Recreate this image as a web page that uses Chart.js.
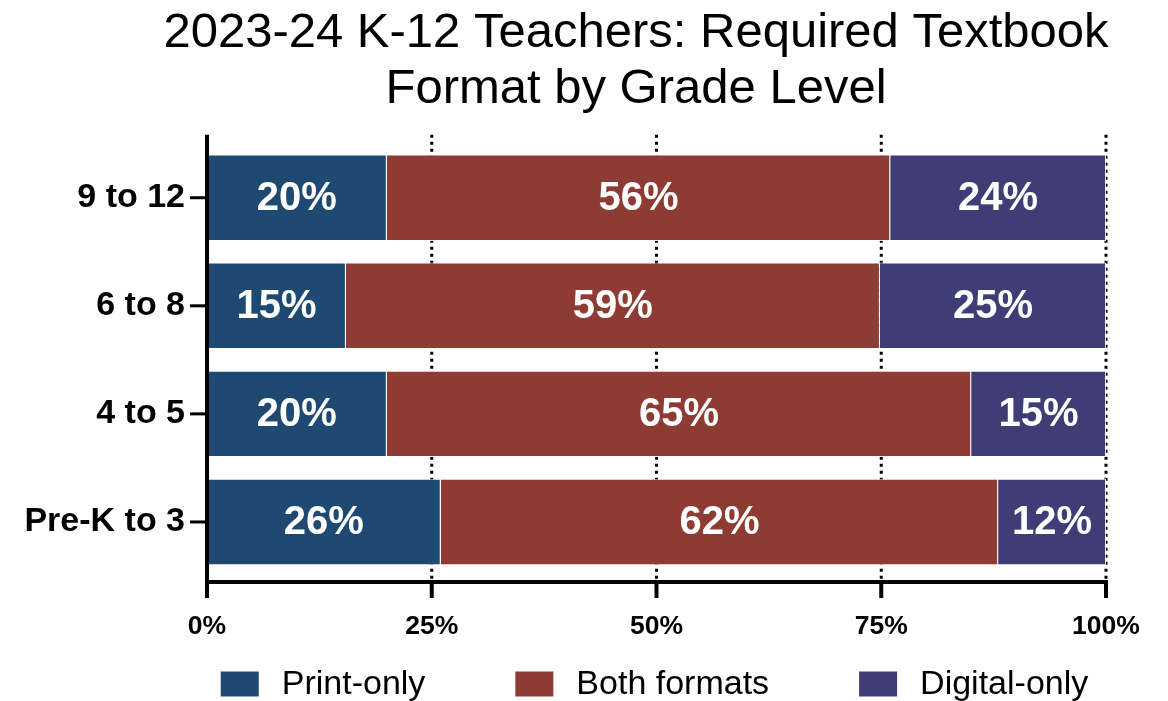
<!DOCTYPE html>
<html>
<head>
<meta charset="utf-8">
<script src="https://cdn.jsdelivr.net/npm/chart.js@4/dist/chart.umd.min.js"></script>
<style>
  html, body { margin: 0; padding: 0; background: #fff; }
  #wrap { width: 1168px; height: 701px; }
</style>
</head>
<body>
<div id="wrap"><canvas id="formatChart"></canvas></div>
<script>
const gradeLevels = ["9 to 12", "6 to 8", "4 to 5", "Pre-K to 3"];
const printOnly = [20, 15.45, 20, 26];
const bothFormats = [56, 59.4, 65, 62];
const digitalOnly = [24, 25.15, 15, 12];
const pctTicks = [0, 25, 50, 75, 100];

const FONT = "'Liberation Sans', Arial, Helvetica, sans-serif";

// dotted grid, heavy axes and tick marks, segment labels, legend
const chartDecor = {
  id: "chartDecor",
  afterLayout(chart) {
    // title is centred a bit right of the canvas middle
    if (chart.titleBlock) chart.titleBlock.left = 104;
  },
  beforeDatasetsDraw(chart) {
    const { ctx, chartArea, scales } = chart;
    ctx.save();
    ctx.strokeStyle = "#000";
    ctx.lineWidth = 3;
    ctx.setLineDash([3, 4]);
    pctTicks.slice(1).forEach(v => {
      const x = scales.x.getPixelForValue(v);
      ctx.beginPath();
      ctx.moveTo(x, chartArea.top - 9);
      ctx.lineTo(x, chartArea.bottom + 6);
      ctx.stroke();
    });
    ctx.restore();
  },
  afterDatasetsDraw(chart) {
    const { ctx, chartArea, scales } = chart;
    const axisY = chartArea.bottom + 6;
    const x0 = scales.x.getPixelForValue(0);
    ctx.save();
    ctx.strokeStyle = "#000";
    ctx.lineCap = "butt";
    ctx.lineWidth = 4;
    ctx.beginPath();
    ctx.moveTo(x0, chartArea.top - 9);
    ctx.lineTo(x0, axisY + 2);
    ctx.moveTo(x0 - 2, axisY);
    ctx.lineTo(scales.x.getPixelForValue(100) + 2, axisY);
    ctx.stroke();
    pctTicks.forEach(v => {
      const x = scales.x.getPixelForValue(v);
      ctx.beginPath();
      ctx.moveTo(x, axisY);
      ctx.lineTo(x, axisY + 16);
      ctx.stroke();
    });
    ctx.lineWidth = 3;
    gradeLevels.forEach((g, i) => {
      const y = scales.y.getPixelForValue(i);
      ctx.beginPath();
      ctx.moveTo(x0 - 17, y);
      ctx.lineTo(x0, y);
      ctx.stroke();
    });

    ctx.fillStyle = "#fff";
    ctx.font = "bold 40px " + FONT;
    ctx.textAlign = "center";
    ctx.textBaseline = "middle";
    chart.data.datasets.forEach((ds, di) => {
      chart.getDatasetMeta(di).data.forEach((bar, i) => {
        const p = bar.getProps(["x", "y", "base"], true);
        ctx.fillText(Math.round(ds.data[i]) + "%", (p.x + p.base) / 2, p.y + 1);
      });
    });
    ctx.restore();
  },
  afterDraw(chart) {
    const { ctx, chartArea } = chart;
    const boxW = 38, boxH = 25, gap = 23, itemGap = 90;
    ctx.save();
    ctx.font = "34px " + FONT;
    ctx.textBaseline = "middle";
    ctx.textAlign = "left";
    const items = chart.data.datasets.map(ds => ({
      label: ds.label,
      color: ds.backgroundColor,
      w: boxW + gap + ctx.measureText(ds.label).width
    }));
    const total = items.reduce((s, it) => s + it.w, 0) + itemGap * (items.length - 1);
    let x = (chartArea.left + chartArea.right) / 2 - total / 2 - 2;
    const y = 684;
    items.forEach(it => {
      ctx.fillStyle = it.color;
      ctx.fillRect(x, y - boxH / 2, boxW, boxH);
      ctx.fillStyle = "#000";
      ctx.fillText(it.label, x + boxW + gap, y + 1);
      x += it.w + itemGap;
    });
    ctx.restore();
  }
};

new Chart(document.getElementById("formatChart"), {
  type: "bar",
  data: {
    labels: gradeLevels,
    datasets: [
      { label: "Print-only", data: printOnly, backgroundColor: "#1e4a72" },
      { label: "Both formats", data: bothFormats, backgroundColor: "#8e3b34" },
      { label: "Digital-only", data: digitalOnly, backgroundColor: "#3f3d76" }
    ]
  },
  options: {
    indexAxis: "y",
    responsive: true,
    maintainAspectRatio: false,
    animation: false,
    layout: { padding: { left: 0, right: 0, top: 0, bottom: 65 } },
    datasets: {
      bar: {
        barPercentage: 0.8,
        categoryPercentage: 1,
        borderWidth: 1,
        borderColor: "rgba(255,255,255,0.85)"
      }
    },
    plugins: {
      legend: { display: false },
      tooltip: { enabled: false },
      title: {
        display: true,
        text: ["2023-24 K-12 Teachers: Required Textbook", "Format by Grade Level"],
        color: "#000",
        font: { family: FONT, size: 49, weight: "normal", lineHeight: 1.15 },
        padding: { top: 5, bottom: 26 }
      }
    },
    scales: {
      x: {
        stacked: true,
        min: 0,
        max: 100,
        grid: { display: false, drawTicks: false },
        border: { display: false },
        ticks: {
          stepSize: 25,
          padding: 35,
          color: "#000",
          font: { family: FONT, size: 26.5, weight: "bold" },
          callback: v => v + "%"
        },
        afterFit(scale) {
          scale.height = 60;
          scale.paddingRight = 62;
        }
      },
      y: {
        stacked: true,
        grid: { display: false, drawTicks: false },
        border: { display: false },
        ticks: {
          padding: 22,
          color: "#000",
          font: { family: FONT, size: 34, weight: "bold" }
        },
        afterFit(scale) {
          scale.width = 207;
        }
      }
    }
  },
  plugins: [chartDecor]
});
</script>
</body>
</html>
